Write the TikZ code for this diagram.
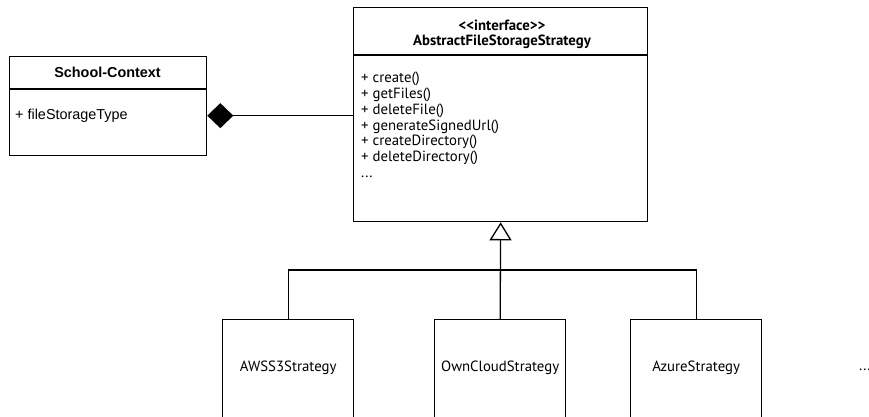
\documentclass[tikz,border=0pt]{standalone}
\usepackage{fontspec}
\setmainfont{PT Sans}
\newfontfamily\arialfont{Liberation Sans}
\usetikzlibrary{arrows.meta}

\tikzset{
    umlbox/.style={draw, line width=1.3pt, rectangle, anchor=north west, inner sep=0pt},
    umltext/.style={inner sep=0pt, font=\fontsize{14.8}{15.8}\selectfont},
    wire/.style={line width=1.3pt}
}

\begin{document}
\begin{tikzpicture}[x=1pt, y=-1pt]
    \useasboundingbox (0,0) rectangle (869,416);

    % school context
    \node[umlbox, minimum width=197, minimum height=99] (ctx) at (9,56) {};
    \draw[wire] ([yshift=-33pt]ctx.north west) -- ([yshift=-33pt]ctx.north east);
    \node[umltext, font=\arialfont\bfseries\fontsize{14.4}{16}\selectfont] (ctxtitle) at (107.5,72) {School-Context};
    \node[umltext, font=\arialfont\fontsize{14.4}{16}\selectfont, anchor=west] (ctxattr) at (15,115.5) {+ fileStorageType};

    % interface
    \node[umlbox, minimum width=294, minimum height=214] (ifc) at (353,7) {};
    \draw[wire] ([yshift=-48pt]ifc.north west) -- ([yshift=-48pt]ifc.north east);
    \node[umltext, font=\bfseries\fontsize{14.8}{14.5}\selectfont, align=center] (ifctitle) at (502,34.5)
        {<\kern0pt<interface>\kern0pt>\\AbstractFileStorageStrategy};
    \node[umltext, align=left, anchor=north west] (ifcops) at (361,72)
        {+ create()\\+ getFiles()\\+ deleteFile()\\+ generateSignedUrl()\\+ createDirectory()\\+ deleteDirectory()\\...};

    % strategies
    \node[umlbox, minimum width=131, minimum height=120] (aws) at (222,319) {};
    \node[umlbox, minimum width=131, minimum height=120] (own) at (434,319) {};
    \node[umlbox, minimum width=131, minimum height=120] (azure) at (630,319) {};
    \node[umltext] (awstext) at (aws.north |- 0,368) {AWSS3Strategy};
    \node[umltext] (owntext) at (own.north |- 0,368) {OwnCloudStrategy};
    \node[umltext] (azuretext) at (azure.north |- 0,368) {AzureStrategy};
    \node[umltext, anchor=west] (more) at (859,370) {...};

    % relations
    \coordinate (link) at ([yshift=-9.5pt]ctx.east);
    \coordinate (bus) at (500,270);
    \draw[wire, {Diamond[length=26pt, width=25pt]}-] (link) -- (ifc.west |- link);
    \draw[wire, -{Triangle[open, length=18pt, width=22pt]}] (own.north) -- (ifc.south);
    \draw[wire] (aws.north) |- (bus) -| (azure.north);
\end{tikzpicture}
\end{document}
